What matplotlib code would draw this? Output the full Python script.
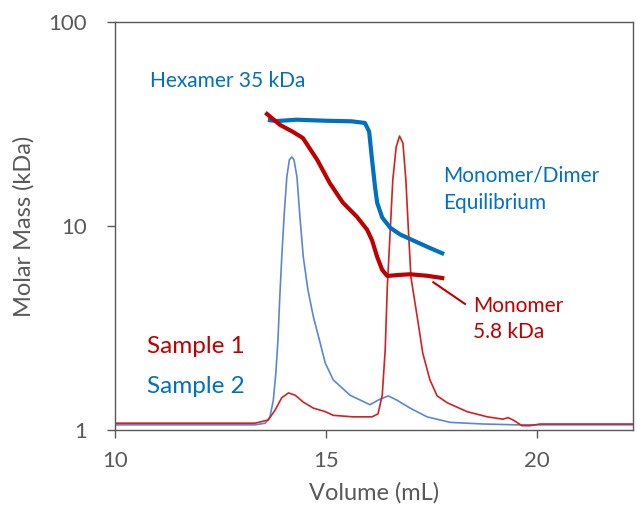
import numpy as np
import matplotlib
matplotlib.use('Agg')
import matplotlib.pyplot as plt

plt.rcParams['font.family'] = ['Lato', 'DejaVu Sans']

# molar mass (kDa) vs elution volume (mL)
vol_mass_1 = [13.60, 13.91, 14.22, 14.45, 14.79, 15.09, 15.40, 15.73, 15.97, 16.09,
              16.21, 16.33, 16.45, 16.70, 16.99, 17.40, 17.75]
mass_1 = [35.4, 31.3, 28.9, 27.0, 21.1, 16.2, 13.0, 11.1, 9.6, 8.5,
          7.05, 6.09, 5.69, 5.75, 5.8, 5.7, 5.56]
vol_mass_2 = [13.67, 13.84, 14.30, 15.00, 15.60, 15.92, 16.02, 16.09, 16.16, 16.21,
              16.33, 16.52, 16.75, 17.06, 17.46, 17.75]
mass_2 = [33.0, 32.7, 33.2, 32.8, 32.6, 32.0, 29.0, 21.0, 15.5, 13.0,
          11.0, 9.8, 9.1, 8.5, 7.8, 7.35]

# detector traces (drawn on the same axis)
vol_trace_1 = [10.0, 13.32, 13.63, 13.79, 13.95, 14.11, 14.27, 14.46, 14.70, 14.98,
               15.17, 15.64, 16.09, 16.23, 16.33, 16.40, 16.45, 16.52, 16.58, 16.66,
               16.74, 16.82, 16.89, 16.95, 17.01, 17.17, 17.29, 17.46, 17.63, 17.87,
               18.34, 18.82, 19.19, 19.31, 19.43, 19.64, 19.83, 20.07, 22.27]
trace_1 = [1.08, 1.08, 1.12, 1.25, 1.44, 1.52, 1.48, 1.37, 1.28, 1.23,
           1.18, 1.16, 1.16, 1.20, 1.48, 2.47, 5.02, 9.55, 16.8, 24.4,
           27.6, 25.5, 16.8, 9.55, 5.62, 3.46, 2.38, 1.76, 1.47, 1.36,
           1.23, 1.16, 1.13, 1.15, 1.12, 1.05, 1.05, 1.07, 1.07]
vol_trace_2 = [10.0, 13.32, 13.56, 13.67, 13.75, 13.81, 13.86, 13.90, 13.95, 14.01,
               14.07, 14.13, 14.19, 14.24, 14.31, 14.38, 14.46, 14.57, 14.70, 14.86,
               14.98, 15.17, 15.57, 16.04, 16.23, 16.47, 16.68, 16.99, 17.39, 17.94,
               18.72, 19.53, 22.27]
trace_2 = [1.06, 1.06, 1.08, 1.16, 1.40, 1.90, 2.76, 4.34, 7.05, 11.6,
           17.4, 21.1, 21.8, 21.1, 17.4, 11.1, 7.05, 4.86, 3.58, 2.67,
           2.13, 1.76, 1.48, 1.33, 1.40, 1.47, 1.40, 1.28, 1.16, 1.09,
           1.07, 1.06, 1.06]

red = '#C00000'
blue = '#0070C0'
grey = '#595959'

fig = plt.figure(figsize=(6.37, 5.2), dpi=100)
ax = fig.add_axes([115 / 637, 90 / 520, 518 / 637, 408 / 520])

ax.plot(vol_trace_2, trace_2, color='#5B86D6', lw=1.2)
ax.plot(vol_trace_1, trace_1, color='#D42020', lw=1.2)
ax.plot(vol_mass_2, mass_2, color=blue, lw=3)
ax.plot(vol_mass_1, mass_1, color=red, lw=3)

ax.set_yscale('log')
ax.set_xlim(10, 22.27)
ax.set_ylim(1, 100)
ax.set_xticks([10, 15, 20])
ax.set_yticks([1, 10, 100])
ax.set_yticklabels(['1', '10', '100'])
ax.minorticks_off()
ax.tick_params(direction='out', length=6, width=1, color=grey, labelcolor=grey,
               labelsize=16)
ax.tick_params(axis='y', pad=14)
ax.tick_params(axis='x', pad=9)
for s in ax.spines.values():
    s.set_color(grey)
    s.set_linewidth(1)

ax.set_xlabel('Volume (mL)', fontsize=17, color=grey, labelpad=8)
ax.set_ylabel('Molar Mass (kDa)', fontsize=17, color=grey, labelpad=10)

ax.text(10.83, 48.2, 'Hexamer 35 kDa', color=blue, fontsize=15, va='baseline')
ax.text(17.78, 16.5, 'Monomer/Dimer', color=blue, fontsize=15, va='baseline')
ax.text(17.78, 12.07, 'Equilibrium', color=blue, fontsize=15, va='baseline')
ax.text(18.48, 3.80, 'Monomer', color=red, fontsize=15, va='baseline')
ax.text(18.48, 2.816, '5.8 kDa', color=red, fontsize=15, va='baseline')
ax.plot([17.54, 18.29], [5.3, 4.15], color=red, lw=1.5)
ax.text(10.75, 2.377, 'Sample 1', color=red, fontsize=17.5, va='baseline')
ax.text(10.75, 1.513, 'Sample 2', color=blue, fontsize=17.5, va='baseline')

fig.savefig('out.png', dpi=100)
